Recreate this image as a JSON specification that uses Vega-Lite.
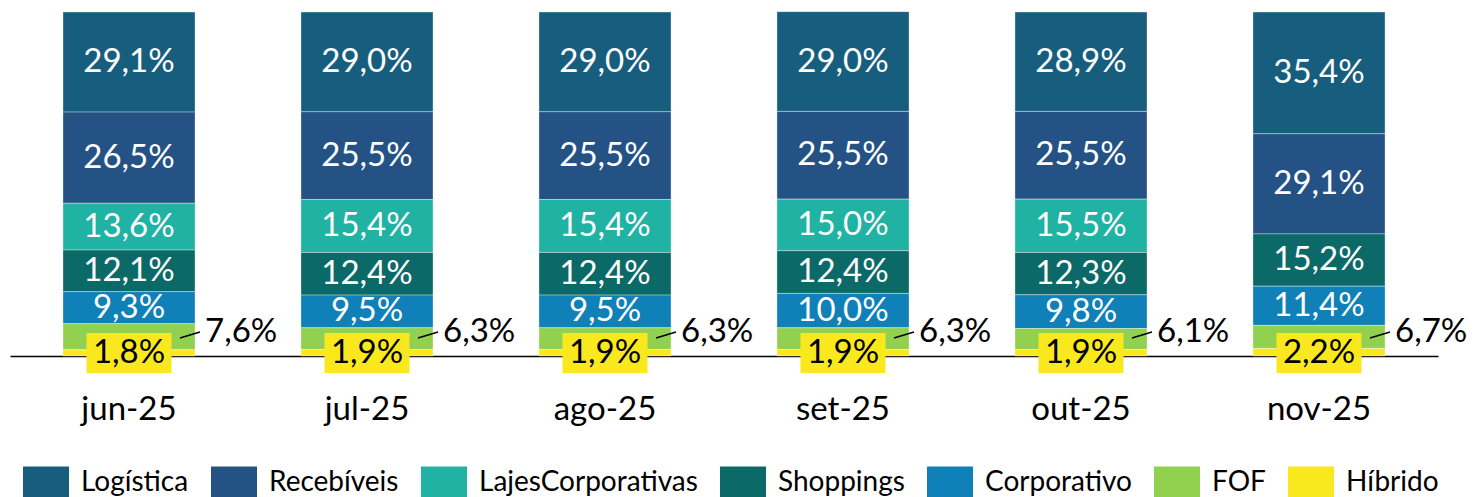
{
  "$schema": "https://vega.github.io/schema/vega-lite/v6.json",
  "width": 1428,
  "height": 344,
  "autosize": {"type": "none"},
  "padding": {"left": 10, "top": 12, "right": 45, "bottom": 141},
  "background": "white",
  "config": {
    "font": "Lato",
    "view": {"stroke": null},
    "locale": {"number": {"decimal": ",", "thousands": ".", "grouping": [3], "currency": ["R$", ""]}}
  },
  "data": {"values": [
    {"m": "jun-25", "s": "Logística", "v": 0.291},
    {"m": "jun-25", "s": "Recebíveis", "v": 0.265},
    {"m": "jun-25", "s": "LajesCorporativas", "v": 0.136},
    {"m": "jun-25", "s": "Shoppings", "v": 0.121},
    {"m": "jun-25", "s": "Corporativo", "v": 0.093},
    {"m": "jun-25", "s": "FOF", "v": 0.076},
    {"m": "jun-25", "s": "Híbrido", "v": 0.018},
    {"m": "jul-25", "s": "Logística", "v": 0.290},
    {"m": "jul-25", "s": "Recebíveis", "v": 0.255},
    {"m": "jul-25", "s": "LajesCorporativas", "v": 0.154},
    {"m": "jul-25", "s": "Shoppings", "v": 0.124},
    {"m": "jul-25", "s": "Corporativo", "v": 0.095},
    {"m": "jul-25", "s": "FOF", "v": 0.063},
    {"m": "jul-25", "s": "Híbrido", "v": 0.019},
    {"m": "ago-25", "s": "Logística", "v": 0.290},
    {"m": "ago-25", "s": "Recebíveis", "v": 0.255},
    {"m": "ago-25", "s": "LajesCorporativas", "v": 0.154},
    {"m": "ago-25", "s": "Shoppings", "v": 0.124},
    {"m": "ago-25", "s": "Corporativo", "v": 0.095},
    {"m": "ago-25", "s": "FOF", "v": 0.063},
    {"m": "ago-25", "s": "Híbrido", "v": 0.019},
    {"m": "set-25", "s": "Logística", "v": 0.290},
    {"m": "set-25", "s": "Recebíveis", "v": 0.255},
    {"m": "set-25", "s": "LajesCorporativas", "v": 0.150},
    {"m": "set-25", "s": "Shoppings", "v": 0.124},
    {"m": "set-25", "s": "Corporativo", "v": 0.100},
    {"m": "set-25", "s": "FOF", "v": 0.063},
    {"m": "set-25", "s": "Híbrido", "v": 0.019},
    {"m": "out-25", "s": "Logística", "v": 0.289},
    {"m": "out-25", "s": "Recebíveis", "v": 0.255},
    {"m": "out-25", "s": "LajesCorporativas", "v": 0.155},
    {"m": "out-25", "s": "Shoppings", "v": 0.123},
    {"m": "out-25", "s": "Corporativo", "v": 0.098},
    {"m": "out-25", "s": "FOF", "v": 0.061},
    {"m": "out-25", "s": "Híbrido", "v": 0.019},
    {"m": "nov-25", "s": "Logística", "v": 0.354},
    {"m": "nov-25", "s": "Recebíveis", "v": 0.291},
    {"m": "nov-25", "s": "Shoppings", "v": 0.152},
    {"m": "nov-25", "s": "Corporativo", "v": 0.114},
    {"m": "nov-25", "s": "FOF", "v": 0.067},
    {"m": "nov-25", "s": "Híbrido", "v": 0.022}
  ]},
  "transform": [
    {"calculate": "indexof(['Híbrido','FOF','Corporativo','Shoppings','LajesCorporativas','Recebíveis','Logística'], datum.s)", "as": "k"},
    {"stack": "v", "groupby": ["m"], "sort": [{"field": "k", "order": "ascending"}], "as": ["y0", "y1"]},
    {"calculate": "(datum.y0 + datum.y1) / 2", "as": "mid"}
  ],
  "encoding": {
    "x": {
      "field": "m", "type": "nominal", "sort": null,
      "scale": {"paddingInner": 0.445, "paddingOuter": 0.2225},
      "axis": {"title": null, "ticks": false, "domainColor": "#000000", "domainWidth": 1.5, "labelAngle": 0, "labelFontSize": 33, "labelColor": "#000000", "labelPadding": 37, "labelFont": "Lato"}
    }
  },
  "layer": [
    {
      "mark": {"type": "bar", "stroke": "#ffffff", "strokeOpacity": 0.35, "strokeWidth": 1},
      "encoding": {
        "y": {"field": "y0", "type": "quantitative", "scale": {"domain": [0, 1], "nice": false}, "axis": null},
        "y2": {"field": "y1"},
        "color": {
          "field": "s", "type": "nominal",
          "scale": {
            "domain": ["Logística", "Recebíveis", "LajesCorporativas", "Shoppings", "Corporativo", "FOF", "Híbrido"],
            "range": ["#175E7E", "#245284", "#20B2A2", "#0B6967", "#0F80B8", "#92D050", "#F9E81E"]
          },
          "legend": {
            "orient": "none", "legendX": 13, "legendY": 448, "direction": "horizontal", "columns": 7,
            "title": null, "symbolType": "M-1,-0.74L1,-0.74L1,0.74L-1,0.74Z", "symbolSize": 2116,
            "symbolStrokeWidth": 0, "symbolOpacity": 1, "labelFontSize": 28, "labelFont": "Lato", "labelColor": "#000000",
            "labelOffset": 12, "columnPadding": 22, "labelLimit": 400
          }
        }
      }
    },
    {
      "transform": [{"filter": "datum.k >= 2"}],
      "mark": {"type": "text", "color": "#ffffff", "fontSize": 33, "baseline": "middle", "align": "center"},
      "encoding": {
        "y": {"field": "mid", "type": "quantitative"},
        "text": {"field": "v", "type": "quantitative", "format": ".1%"}
      }
    },
    {
      "transform": [{"filter": "datum.s == 'Híbrido'"}],
      "mark": {"type": "point", "shape": "M-1,-0.47L1,-0.47L1,0.47L-1,0.47Z", "size": 7225, "filled": true, "fill": "#F9E81E", "opacity": 1, "strokeWidth": 0, "yOffset": -3},
      "encoding": {"y": {"datum": 0, "type": "quantitative"}}
    },
    {
      "transform": [{"filter": "datum.s == 'Híbrido'"}],
      "mark": {"type": "text", "color": "#000000", "fontSize": 33, "baseline": "middle", "align": "center", "yOffset": -3},
      "encoding": {
        "y": {"datum": 0, "type": "quantitative"},
        "text": {"field": "v", "type": "quantitative", "format": ".1%"}
      }
    },
    {
      "transform": [{"filter": "datum.s == 'FOF'"}],
      "mark": {"type": "point", "shape": "M-1,0.3L1,-0.3", "size": 400, "filled": false, "stroke": "#000000", "strokeWidth": 1.5, "opacity": 1, "xOffset": 61, "yOffset": -21},
      "encoding": {"y": {"datum": 0, "type": "quantitative"}}
    },
    {
      "transform": [{"filter": "datum.s == 'FOF'"}],
      "mark": {"type": "text", "color": "#000000", "fontSize": 33, "baseline": "middle", "align": "left", "xOffset": 76, "yOffset": -24},
      "encoding": {
        "y": {"datum": 0, "type": "quantitative"},
        "text": {"field": "v", "type": "quantitative", "format": ".1%"}
      }
    }
  ]
}
